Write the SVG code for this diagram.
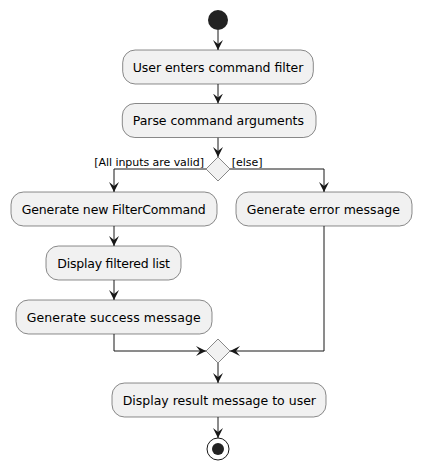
<svg xmlns="http://www.w3.org/2000/svg" width="421" height="469" viewBox="0 0 421 469">
<defs>
<style>
.box{fill:#F1F1F1;stroke:#181818;stroke-width:0.5}
.dia{fill:#F1F1F1;stroke:#181818;stroke-width:0.5}
.t{font-family:"DejaVu Sans",sans-serif;font-size:12.5px;fill:#000}
.lbl{font-family:"DejaVu Sans",sans-serif;font-size:11px;fill:#000}
.c{fill:none;stroke:#181818;stroke-width:1}
</style>
<marker id="ah" markerUnits="userSpaceOnUse" markerWidth="10" markerHeight="10" viewBox="0 0 10 10" refX="10" refY="5" orient="auto">
<path d="M0,0 L10,5 L0,10 L4,5 Z" fill="#181818"/>
</marker>
</defs>
<rect width="421" height="469" fill="#FFFFFF"/>
<g id="connectors">
<path class="c" d="M218,30 L218,50" marker-end="url(#ah)"/>
<path class="c" d="M218,84 L218,103.5" marker-end="url(#ah)"/>
<path class="c" d="M218,137.5 L218,157" marker-end="url(#ah)"/>
<path class="c" d="M206,169 L114,169 L114,192" marker-end="url(#ah)"/>
<path class="c" d="M230,169 L324,169 L324,192" marker-end="url(#ah)"/>
<path class="c" d="M114,226 L114,246" marker-end="url(#ah)"/>
<path class="c" d="M114,280 L114,300" marker-end="url(#ah)"/>
<path class="c" d="M114,334 L114,351 L206,351" marker-end="url(#ah)"/>
<path class="c" d="M324,226 L324,351 L230,351" marker-end="url(#ah)"/>
<path class="c" d="M218,363 L218,383" marker-end="url(#ah)"/>
<path class="c" d="M218,417 L218,438" marker-end="url(#ah)"/>
<text class="lbl" x="94.3" y="166" textLength="109.7" lengthAdjust="spacing">[All inputs are valid]</text>
<text class="lbl" x="231.7" y="166">[else]</text>
</g>
<g id="start"><circle cx="218" cy="20" r="10" fill="#222222"/></g>
<g id="n1"><rect class="box" x="122.7" y="50" width="190.6" height="34" rx="12.5"/><text class="t" x="132.7" y="71.5" textLength="170.6" lengthAdjust="spacing">User enters command filter</text></g>
<g id="n2"><rect class="box" x="122.3" y="103.5" width="193.7" height="34" rx="12.5"/><text class="t" x="132.7" y="125" textLength="171.3" lengthAdjust="spacing">Parse command arguments</text></g>
<g id="d1"><polygon class="dia" points="218,157 230,169 218,181 206,169"/></g>
<g id="n3"><rect class="box" x="11" y="192" width="206" height="34" rx="12.5"/><text class="t" x="21.7" y="213.5" textLength="184" lengthAdjust="spacing">Generate new FilterCommand</text></g>
<g id="n4"><rect class="box" x="236" y="192" width="176" height="34" rx="12.5"/><text class="t" x="246.7" y="213.5" textLength="153.3" lengthAdjust="spacing">Generate error message</text></g>
<g id="n5"><rect class="box" x="46" y="246" width="135" height="34" rx="12.5"/><text class="t" x="57.3" y="267.5" textLength="112.7" lengthAdjust="spacing">Display filtered list</text></g>
<g id="n6"><rect class="box" x="16" y="300" width="196" height="34" rx="12.5"/><text class="t" x="26.7" y="321.5" textLength="174" lengthAdjust="spacing">Generate success message</text></g>
<g id="d2"><polygon class="dia" points="218,339 230,351 218,363 206,351"/></g>
<g id="n7"><rect class="box" x="112" y="383" width="214" height="34" rx="12.5"/><text class="t" x="122.7" y="404.5" textLength="193.3" lengthAdjust="spacing">Display result message to user</text></g>
<g id="end"><circle cx="218" cy="449" r="11" fill="none" stroke="#181818" stroke-width="1"/><circle cx="218" cy="449" r="6" fill="#222222"/></g>
</svg>
